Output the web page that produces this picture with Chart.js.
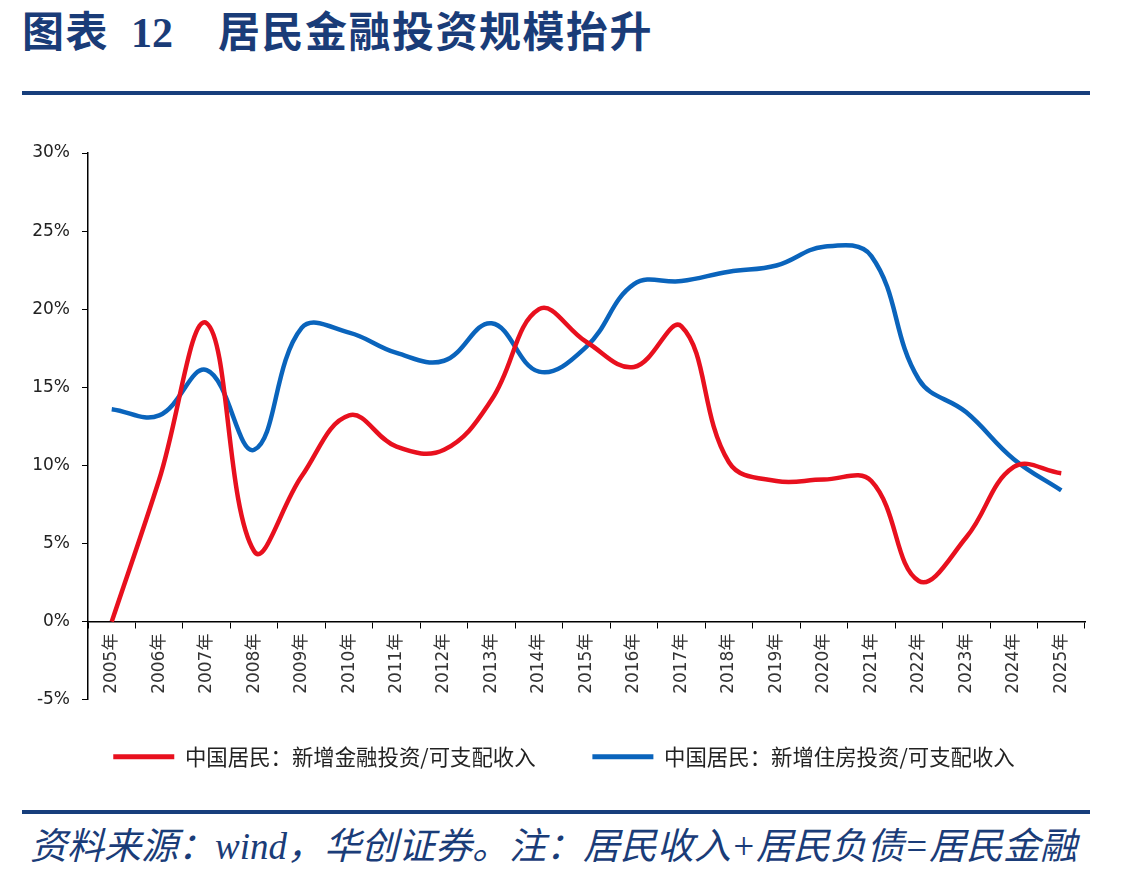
<!DOCTYPE html>
<html>
<head>
<meta charset="utf-8">
<script src="https://cdn.jsdelivr.net/npm/chart.js@4.4.0/dist/chart.umd.min.js"></script>
<style>
html,body{margin:0;padding:0;background:#fff;width:1128px;height:881px;overflow:hidden;position:relative;}
#title{position:absolute;left:22px;top:2px;font-family:"Noto Sans CJK SC";font-weight:700;font-size:42px;line-height:54px;color:#1a3c78;white-space:nowrap;letter-spacing:1.5px;}
#title .num{font-family:"Liberation Serif";font-weight:700;letter-spacing:0;margin-left:22px;margin-right:45px;}
.rule{position:absolute;left:22px;width:1068px;height:4px;background:#173e7c;}
#source{position:absolute;left:30px;top:822px;font-family:"Liberation Serif","Noto Sans CJK SC";font-style:italic;font-size:37px;line-height:50px;color:#1a3c78;white-space:nowrap;}
#wrap{position:absolute;left:0;top:100px;width:1128px;height:700px;}
</style>
</head>
<body>
<div id="title">图表<span class="num">12</span>居民金融投资规模抬升</div>
<div class="rule" style="top:91px"></div>
<div id="wrap"><canvas id="c" width="1128" height="700"></canvas></div>
<div class="rule" style="top:810px"></div>
<div id="source">资料来源：wind，华创证券。注：居民收入+居民负债=居民金融</div>
<script>
const years = ['2005年','2006年','2007年','2008年','2009年','2010年','2011年','2012年','2013年','2014年','2015年','2016年','2017年','2018年','2019年','2020年','2021年','2022年','2023年','2024年','2025年'];
const financialInvest = [0, 9.1, 19.1, 4.5, 9.3, 13.2, 11.2, 11.0, 14.2, 20.0, 17.9, 16.3, 18.9, 10.2, 9.0, 9.1, 9.0, 2.6, 5.4, 9.9, 9.5];
const housingInvest = [13.6, 13.2, 16.1, 11.0, 18.8, 18.5, 17.2, 16.7, 19.1, 16.0, 17.6, 21.6, 21.8, 22.4, 22.8, 24.0, 23.4, 15.5, 13.4, 10.4, 8.4];
const seriesNames = ['中国居民：新增金融投资/可支配收入', '中国居民：新增住房投资/可支配收入'];
const yTicks = {min: -5, max: 30, step: 5};

const tickFont = {family: '"DejaVu Sans", "Noto Sans CJK SC", sans-serif', size: 17};

new Chart(document.getElementById('c'), {
  type: 'line',
  data: {
    labels: years,
    datasets: [
      {label: seriesNames[0], data: financialInvest, borderColor: '#E8101E', backgroundColor: '#E8101E', borderWidth: 4.5, pointRadius: 0, tension: 0.4, fill: false, yAxisID: 'y'},
      {label: seriesNames[1], data: housingInvest, borderColor: '#0A64BC', backgroundColor: '#0A64BC', borderWidth: 4.5, pointRadius: 0, tension: 0.4, fill: false, yAxisID: 'y'}
    ]
  },
  options: {
    responsive: false,
    animation: false,
    devicePixelRatio: 1,
    layout: {padding: {top: 53, left: 0, right: 0, bottom: 22.5}},
    scales: {
      x: {
        type: 'category',
        position: {y: 0},
        offset: true,
        grid: {offset: true, drawOnChartArea: false, drawTicks: true, tickLength: 6, color: '#000', lineWidth: 1},
        border: {display: true, color: '#000', width: 1.5},
        ticks: {autoSkip: false, minRotation: 90, maxRotation: 90, padding: 6, color: '#333', font: tickFont}
      },
      y: {
        position: 'left',
        min: yTicks.min, max: yTicks.max,
        afterFit: (s) => { s.width = 88; },
        grid: {drawOnChartArea: false, drawTicks: true, tickLength: 6, color: '#000', lineWidth: 1},
        border: {display: true, color: '#000', width: 1.5},
        ticks: {stepSize: yTicks.step, padding: 12, color: '#222', font: tickFont, callback: (v) => v + '%'}
      },
      yRight: {
        position: 'right',
        min: yTicks.min, max: yTicks.max,
        afterFit: (s) => { s.width = 43; },
        grid: {display: false, drawTicks: false},
        border: {display: false},
        ticks: {display: false}
      }
    },
    plugins: {
      tooltip: {enabled: false},
      legend: {
        display: true,
        position: 'bottom',
        title: {display: true, text: ' ', font: {size: 12}, padding: {top: 18, bottom: 0}},
        labels: {
          boxWidth: 61, boxHeight: 5, padding: 14, color: '#222',
          font: {family: '"Noto Sans CJK SC", sans-serif', size: 21.4},
          generateLabels: (chart) => chart.data.datasets.map((ds, i) => ({
            text: ds.label + (i === 0 ? '\u3000\u3000' : ''),
            fillStyle: ds.borderColor, strokeStyle: ds.borderColor, lineWidth: 0,
            hidden: false, datasetIndex: i, fontColor: '#222'
          }))
        }
      }
    }
  }
});
</script>
</body>
</html>
